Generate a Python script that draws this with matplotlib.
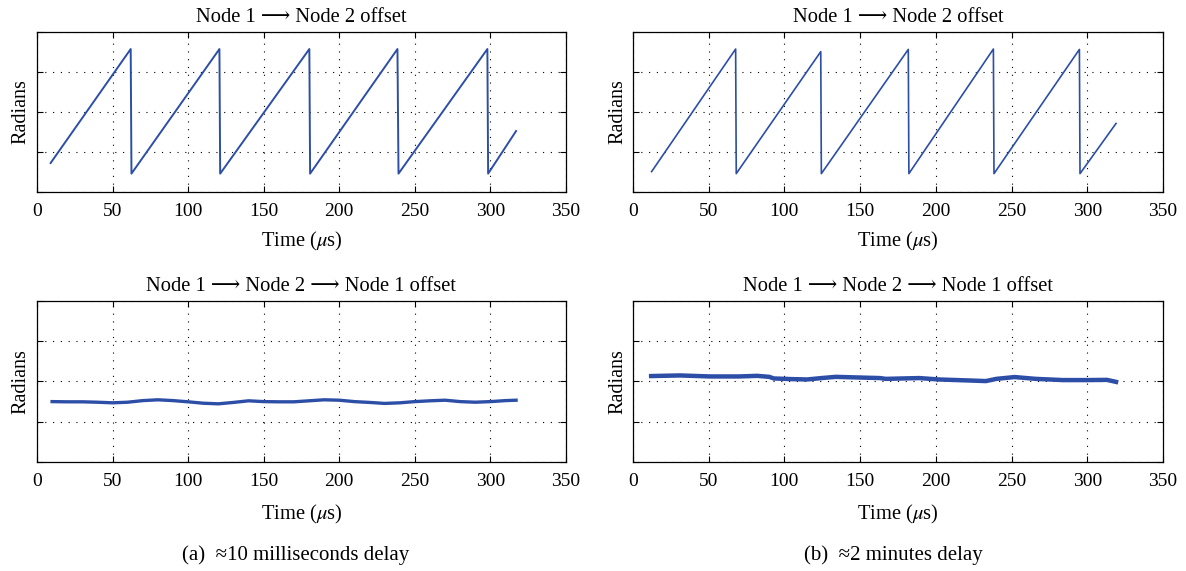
#!/usr/bin/env python3
"""Node clock-offset phase plots: one-way (wrapping sawtooth) vs round-trip (flat) offset."""
import matplotlib

matplotlib.use("Agg")
import matplotlib.pyplot as plt  # noqa: E402

plt.rcParams["font.family"] = ["Liberation Serif", "DejaVu Serif", "DejaVu Sans"]
plt.rcParams["mathtext.fontset"] = "stix"

# (a) ~10 ms delay -- one-way offset, sawtooth corners
a_top_t = [9, 62, 62.5, 120.7, 121.2, 180.2, 180.7, 238.5, 239.2, 298, 298.5, 317]
a_top_y = [-2.55, 3.15, -3.08, 3.15, -3.08, 3.15, -3.08, 3.15, -3.08, 3.15, -3.08, -0.95]

# (b) ~2 min delay -- one-way offset
b_top_t = [12.3, 67.8, 68.2, 124.0, 124.4, 181.8, 182.2, 238, 238.4, 294.8, 295.2, 319]
b_top_y = [-2.98, 3.15, -3.08, 3.02, -3.08, 3.13, -3.08, 3.15, -3.08, 3.13, -3.08, -0.57]

# round-trip offsets
a_bot_t = [10, 20, 30, 40, 50, 60, 70, 80, 90, 100, 110, 120, 130, 140, 150, 160,
           170, 180, 190, 200, 210, 220, 230, 240, 250, 260, 270, 280, 290, 300, 310, 317]
a_bot_y = [-1.0, -1.01, -1.01, -1.03, -1.06, -1.03, -0.95, -0.91, -0.95, -1.01, -1.08,
           -1.11, -1.04, -0.96, -1.0, -1.01, -1.01, -0.96, -0.91, -0.93, -1.0, -1.04,
           -1.09, -1.06, -1.0, -0.96, -0.93, -1.0, -1.03, -1.0, -0.95, -0.93]

b_bot_t = [12, 31, 51, 70, 82, 90, 93, 104, 115, 126, 134, 148, 163, 167, 189, 202,
           222, 233, 240, 252, 266, 284, 300, 313, 319]
b_bot_y = [0.27, 0.30, 0.25, 0.25, 0.28, 0.23, 0.15, 0.12, 0.10, 0.18, 0.23, 0.20, 0.17,
           0.13, 0.17, 0.10, 0.05, 0.02, 0.13, 0.22, 0.13, 0.07, 0.07, 0.08, -0.02]

x_ticks = [0, 50, 100, 150, 200, 250, 300, 350]
y_ticks = [-4, -2, 0, 2, 4]
ARROW = "\u27F6"
LINE = "#2c4ea6"
FS = 14.8
TFS = 14


def style(ax, title, ylab_x, labelpad):
    ax.set_xlim(0, 350)
    ax.set_ylim(-4, 4)
    ax.set_xticks(x_ticks)
    ax.set_yticks(y_ticks)
    ax.set_yticklabels([])
    ax.tick_params(direction="in", length=4, width=0.8, top=True, right=True,
                   labelsize=TFS, pad=8)
    ax.grid(True, color="black", linestyle=(0, (1, 6)), linewidth=0.8)
    for s in ax.spines.values():
        s.set_linewidth(0.9)
    ax.set_title(title, fontsize=FS, pad=7)
    ax.set_xlabel(r"Time ($\mu$s)", fontsize=FS, labelpad=labelpad)
    ax.set_ylabel("Radians", fontsize=14.5)
    ax.yaxis.set_label_coords(ylab_x, 0.5)


fig = plt.figure(figsize=(11.86, 5.71), dpi=100)
ax_a1 = fig.add_axes([0.0312, 0.6637, 0.446, 0.2802])
ax_b1 = fig.add_axes([0.5337, 0.6637, 0.4469, 0.2802])
ax_a2 = fig.add_axes([0.0312, 0.1909, 0.446, 0.2820])
ax_b2 = fig.add_axes([0.5337, 0.1909, 0.4469, 0.2820])

ax_a1.plot(a_top_t, a_top_y, color=LINE, lw=1.4)
ax_b1.plot(b_top_t, b_top_y, color=LINE, lw=1.2)
ax_a2.plot(a_bot_t, a_bot_y, color=LINE, lw=2.4)
ax_b2.plot(b_bot_t, b_bot_y, color=LINE, lw=3.2)

t1 = f"Node 1 {ARROW} Node 2 offset"
t2 = f"Node 1 {ARROW} Node 2 {ARROW} Node 1 offset"
style(ax_a1, t1, -0.013, 7)
style(ax_b1, t1, -0.011, 7)
style(ax_a2, t2, -0.013, 9)
style(ax_b2, t2, -0.011, 9)

fig.text(296 / 1186, 1 - 555 / 571, "(a)  \u224810 milliseconds delay", fontsize=15,
         ha="center", va="center")
fig.text(893 / 1186, 1 - 555 / 571, "(b)  \u22482 minutes delay", fontsize=15,
         ha="center", va="center")

fig.savefig("out.png", dpi=100)
plt.close(fig)
